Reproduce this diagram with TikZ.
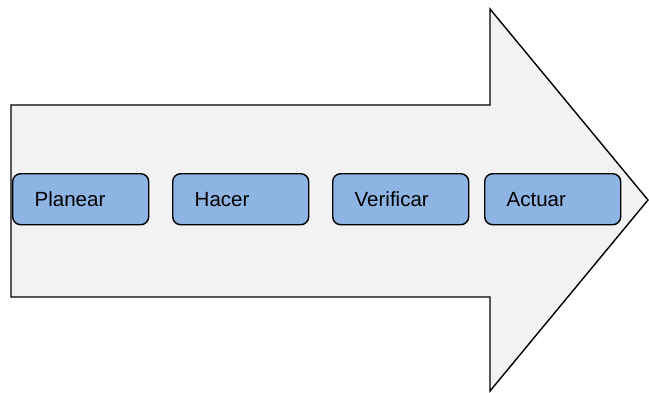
\documentclass[tikz,border=0pt]{standalone}
\usepackage{fontspec}
\setmainfont{Liberation Sans}
\definecolor{arrowfill}{HTML}{F2F2F2}
\definecolor{stepfill}{HTML}{8DB4E2}
\begin{document}
\begin{tikzpicture}[x=1pt,y=-1pt,
  stepbox/.style={draw=black, line width=1.4pt, fill=stepfill, rounded corners=8pt,
    minimum width=136pt, minimum height=51pt, inner xsep=22pt, text width=92pt,
    align=left, anchor=north west, font=\fontsize{20.5}{24}\selectfont}]
  \useasboundingbox (0,0) rectangle (649,392);
  % big process arrow
  \draw[line width=1.4pt, fill=arrowfill, line join=miter]
    (11,105) -- (490,105) -- (490,9) -- (648,200) -- (490,391) -- (490,297) -- (11,297) -- cycle;
  % PDCA steps
  \node[stepbox] (plan) at (12,173) {Planear};
  \node[stepbox] (do) at (172,173) {Hacer};
  \node[stepbox] (check) at (332,173) {Verificar};
  \node[stepbox] (act) at (484,173) {Actuar};
\end{tikzpicture}
\end{document}
